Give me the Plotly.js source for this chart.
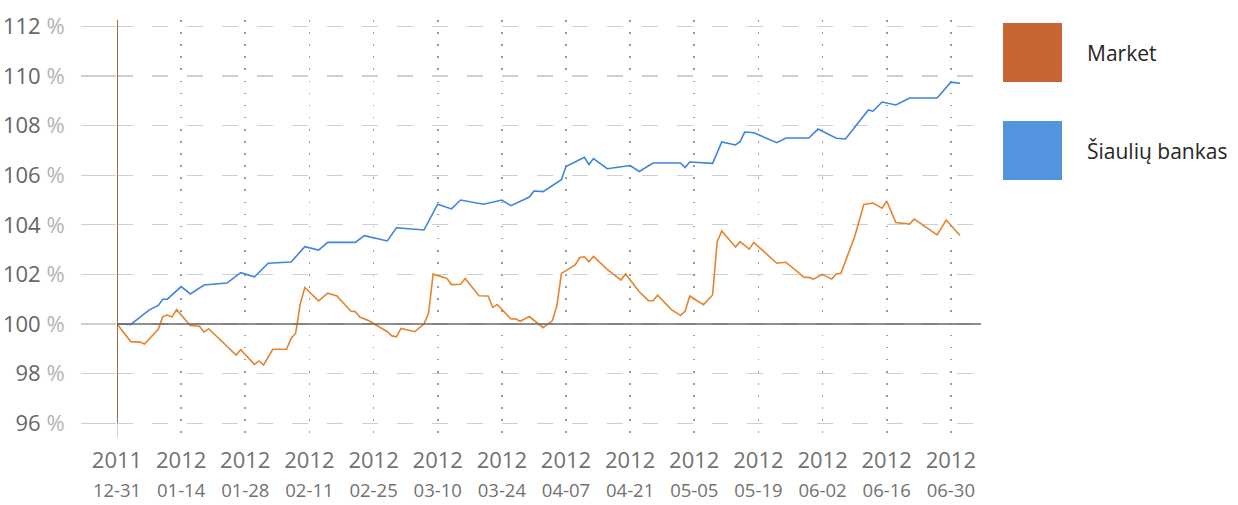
<!DOCTYPE html>
<html>
<head>
<meta charset="utf-8">
<script src="https://cdn.plot.ly/plotly-3.0.1.min.js"></script>
<style>
html,body{margin:0;padding:0;background:#fff;}
#chart{width:1238px;height:505px;}
</style>
</head>
<body>
<div id="chart"></div>
<script>
const seriesNames = ['Market', 'Šiaulių bankas'];
const seriesColors = ['#e3852e', '#3b86dc'];
const legendColors = ['#c96532', '#5294de'];

const marketDates = ['2011-12-31','2012-01-03','2012-01-05','2012-01-06','2012-01-09','2012-01-10','2012-01-11','2012-01-12','2012-01-13','2012-01-16',
'2012-01-18','2012-01-19','2012-01-20','2012-01-26','2012-01-27','2012-01-30','2012-01-31','2012-02-01','2012-02-03','2012-02-06',
'2012-02-07','2012-02-08','2012-02-09','2012-02-10','2012-02-13','2012-02-15','2012-02-17','2012-02-20','2012-02-21','2012-02-22',
'2012-02-24','2012-02-28','2012-02-29','2012-03-01','2012-03-02','2012-03-05','2012-03-07','2012-03-08','2012-03-09','2012-03-12',
'2012-03-13','2012-03-15','2012-03-16','2012-03-19','2012-03-21','2012-03-22','2012-03-23','2012-03-26','2012-03-27','2012-03-28',
'2012-03-30','2012-04-02','2012-04-04','2012-04-05','2012-04-06','2012-04-09','2012-04-10','2012-04-11','2012-04-12','2012-04-13',
'2012-04-16','2012-04-19','2012-04-20','2012-04-23','2012-04-25','2012-04-26','2012-04-27','2012-04-30','2012-05-02','2012-05-03',
'2012-05-04','2012-05-07','2012-05-09','2012-05-10','2012-05-11','2012-05-14','2012-05-15','2012-05-17','2012-05-18','2012-05-23',
'2012-05-25','2012-05-29','2012-05-30','2012-05-31','2012-06-02','2012-06-04','2012-06-05','2012-06-06','2012-06-09','2012-06-10',
'2012-06-11','2012-06-13','2012-06-15','2012-06-16','2012-06-18','2012-06-21','2012-06-22','2012-06-27','2012-06-29','2012-07-02'];
const marketValues = [100.00,99.29,99.27,99.19,99.79,100.30,100.36,100.28,100.58,99.94,
99.91,99.67,99.81,98.75,98.96,98.37,98.51,98.35,98.98,98.98,
99.42,99.63,100.81,101.47,100.93,101.24,101.13,100.52,100.50,100.28,
100.13,99.69,99.52,99.48,99.82,99.69,100.00,100.43,102.01,101.84,
101.59,101.60,101.83,101.14,101.13,100.67,100.79,100.20,100.21,100.11,
100.30,99.85,100.13,100.72,102.04,102.38,102.68,102.71,102.51,102.73,
102.20,101.77,102.02,101.30,100.94,100.94,101.16,100.58,100.35,100.51,
101.13,100.78,101.17,103.32,103.75,103.10,103.32,103.02,103.29,102.45,
102.49,101.88,101.88,101.81,102.00,101.81,102.02,102.04,103.52,104.13,
104.82,104.88,104.67,104.96,104.09,104.03,104.23,103.59,104.19,103.57];

const bankDates = ['2011-12-31','2012-01-03','2012-01-07','2012-01-09','2012-01-10','2012-01-11','2012-01-14','2012-01-16','2012-01-19','2012-01-24',
'2012-01-27','2012-01-30','2012-02-02','2012-02-07','2012-02-10','2012-02-13','2012-02-15','2012-02-21','2012-02-23','2012-02-28',
'2012-03-01','2012-03-07','2012-03-10','2012-03-13','2012-03-15','2012-03-20','2012-03-24','2012-03-26','2012-03-30','2012-03-31',
'2012-04-02','2012-04-06','2012-04-07','2012-04-11','2012-04-12','2012-04-13','2012-04-16','2012-04-21','2012-04-23','2012-04-26',
'2012-05-02','2012-05-03','2012-05-04','2012-05-09','2012-05-11','2012-05-14','2012-05-15','2012-05-16','2012-05-18','2012-05-23',
'2012-05-25','2012-05-30','2012-06-01','2012-06-05','2012-06-07','2012-06-12','2012-06-13','2012-06-15','2012-06-18','2012-06-21',
'2012-06-27','2012-06-30','2012-07-02'];
const bankValues = [100.00,99.98,100.56,100.75,101.00,101.00,101.51,101.21,101.57,101.65,
102.07,101.90,102.45,102.50,103.12,102.98,103.29,103.29,103.56,103.35,
103.88,103.79,104.83,104.64,105.00,104.83,105.00,104.77,105.12,105.36,
105.34,105.82,106.35,106.72,106.43,106.67,106.26,106.39,106.15,106.49,
106.49,106.31,106.53,106.48,107.34,107.22,107.35,107.74,107.71,107.31,
107.50,107.50,107.86,107.49,107.46,108.63,108.58,108.95,108.83,109.11,
109.11,109.75,109.71];

const tickDates = ['2011-12-31','2012-01-14','2012-01-28','2012-02-11','2012-02-25','2012-03-10','2012-03-24',
'2012-04-07','2012-04-21','2012-05-05','2012-05-19','2012-06-02','2012-06-16','2012-06-30'];
const tickYears = ['2011','2012','2012','2012','2012','2012','2012','2012','2012','2012','2012','2012','2012','2012'];
const tickDays = ['12-31','01-14','01-28','02-11','02-25','03-10','03-24','04-07','04-21','05-05','05-19','06-02','06-16','06-30'];
const yTicks = [96, 98, 100, 102, 104, 106, 108, 110, 112];

const FONT = '"Open Sans", "Noto Sans", sans-serif';

const traces = [
  {x: marketDates, y: marketValues, name: seriesNames[0], type: 'scatter', mode: 'lines',
   line: {color: seriesColors[0], width: 1.6}},
  {x: bankDates, y: bankValues, name: seriesNames[1], type: 'scatter', mode: 'lines',
   line: {color: seriesColors[1], width: 1.6}}
];

const xL = 117, xR = 981, yT = 20, yB = 437;
function px(x) { return (x - xL) / (xR - xL); }
function py(y) { return (yB - y) / (yB - yT); }

const shapes = [
  // baseline at 100 %
  {type: 'line', xref: 'paper', yref: 'y', x0: 0, x1: 1, y0: 100, y1: 100, line: {color: '#6a6a6a', width: 1.3}, layer: 'above'},
  // vertical axis line: gray stub below 96 %, brown above
  {type: 'line', xref: 'x', yref: 'paper', x0: tickDates[0], x1: tickDates[0], y0: 0, y1: py(423), line: {color: '#b5b5b5', width: 1.3}, layer: 'above'},
  {type: 'line', xref: 'x', yref: 'paper', x0: tickDates[0], x1: tickDates[0], y0: py(423), y1: 1, line: {color: '#8a4a12', width: 1.6}, layer: 'above'},
  // legend squares
  {type: 'rect', xref: 'paper', yref: 'paper', x0: px(1003), x1: px(1062), y0: py(82), y1: py(23), fillcolor: legendColors[0], line: {width: 0}},
  {type: 'rect', xref: 'paper', yref: 'paper', x0: px(1003), x1: px(1062), y0: py(180), y1: py(121), fillcolor: legendColors[1], line: {width: 0}}
];

const annotations = [
  {xref: 'paper', yref: 'paper', x: px(1085), y: py(53), xanchor: 'left', yanchor: 'middle', showarrow: false,
   text: seriesNames[0], font: {family: FONT, size: 21, color: '#262626'}},
  {xref: 'paper', yref: 'paper', x: px(1085), y: py(151), xanchor: 'left', yanchor: 'middle', showarrow: false,
   text: seriesNames[1], font: {family: FONT, size: 21, color: '#262626'}}
];

const layout = {
  width: 1238, height: 505,
  margin: {l: xL, r: 1238 - xR, t: yT, b: 505 - yB, pad: 0},
  paper_bgcolor: '#ffffff', plot_bgcolor: '#ffffff',
  showlegend: false,
  font: {family: FONT, color: '#666'},
  xaxis: {
    type: 'date',
    range: ['2011-12-31', '2012-07-06 14:00'],
    tickmode: 'array',
    tickvals: tickDates,
    ticktext: tickDates.map((d, i) => tickYears[i] + '<br><span style="font-size:18.5px">' + tickDays[i] + '</span>'),
    tickfont: {family: FONT, size: 22, color: '#727272'},
    showgrid: true, gridcolor: '#9a9a9a', gridwidth: 1.6, griddash: '1.6px,10.5px',
    zeroline: false, showline: false, ticks: '',
    ticklabelstandoff: 8
  },
  yaxis: {
    range: [100 - (yB - 324) / 24.8, 100 + (324 - yT) / 24.8],
    tickmode: 'array',
    tickvals: yTicks,
    ticktext: yTicks.map(v => v + ' <span style="color:#b4b4b4">%</span>'),
    tickfont: {family: FONT, size: 22, color: '#666'},
    showgrid: true, gridcolor: '#cfcfcf', gridwidth: 1.3, griddash: '16px,19px',
    zeroline: false, showline: false,
    ticks: 'outside', ticklen: 35, tickcolor: '#cfcfcf', tickwidth: 1.3,
    ticklabelstandoff: 12
  },
  shapes: shapes,
  annotations: annotations
};

Plotly.newPlot('chart', traces, layout, {staticPlot: true, displayModeBar: false});
</script>
</body>
</html>
